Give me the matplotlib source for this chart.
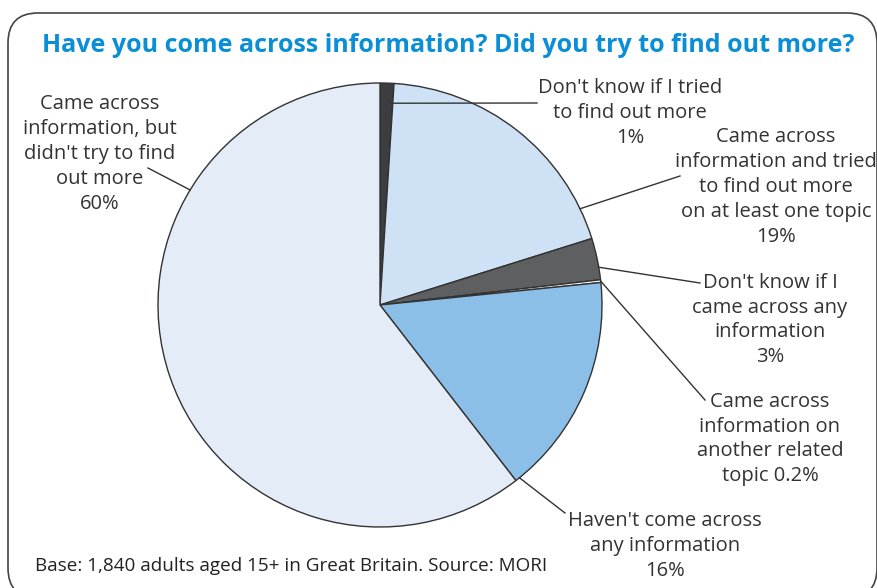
import matplotlib.pyplot as plt
import numpy as np
from matplotlib.patches import FancyBboxPatch

# survey shares, clockwise from 12 o'clock
labels = ["Don't know if I tried\nto find out more\n1%",
          "Came across\ninformation and tried\nto find out more\non at least one topic\n19%",
          "Don't know if I\ncame across any\ninformation\n3%",
          "Came across\ninformation on\nanother related\ntopic 0.2%",
          "Haven't come across\nany information\n16%",
          "Came across\ninformation, but\ndidn't try to find\nout more\n60%"]
values = [1, 19, 3, 0.2, 16, 60]
colors = ['#3d3d3f', '#cfe1f5', '#5e5f61', '#f4f7fb', '#8bbfe8', '#e4ecf8']

# label centre (px from top-left), leader end (px), anchor (clockwise fraction of wedge, fraction of radius)
label_pos = [(630, 113), (776, 187), (770, 320), (770, 439), (665, 546), (100, 154)]
leader_end = [(537, 103), (680, 176), (700, 283), (705, 400), (565, 513), (148, 168)]
anchor = [(0.8, 0.91), (0.88, 1.0), (0.7, 1.0), (0.5, 1.0), (0.98, 1.0), (0.73, 1.0)]

W, H = 878, 588
fig = plt.figure(figsize=(W / 100, H / 100), dpi=100)
ax = fig.add_axes([0, 0, 1, 1])

cx, cy, r = 380, H - 305, 222
wedges, _ = ax.pie(values, colors=colors, startangle=90, counterclock=False,
                   center=(cx, cy), radius=r, frame=True,
                   wedgeprops=dict(edgecolor='#333333', linewidth=1.0))
ax.set_xlim(0, W)
ax.set_ylim(0, H)
ax.set_aspect('equal')
ax.axis('off')

txt_font = ['Open Sans', 'DejaVu Sans']
for w, lab, (lx, ly), (ex, ey), (fa, fr) in zip(wedges, labels, label_pos, leader_end, anchor):
    ang = np.deg2rad(w.theta2 - fa * (w.theta2 - w.theta1))
    px = cx + r * fr * np.cos(ang)
    py = cy + r * fr * np.sin(ang)
    ax.plot([px, ex], [py, H - ey], color='#333333', lw=1.0)
    ax.text(lx, H - ly, lab, ha='center', va='center', fontsize=14.5,
            color='#333333', family=txt_font, linespacing=1.33)

box = FancyBboxPatch((8, -10), 869, H - 13 + 10, boxstyle='round,pad=0,rounding_size=30',
                     fill=False, edgecolor='#444444', lw=1.2, clip_on=False)
ax.add_patch(box)

ax.text(448, H - 45, 'Have you come across information? Did you try to find out more?',
        ha='center', va='center', fontsize=18, fontweight='bold', color='#0a8fd6',
        family=txt_font)
ax.text(35, H - 566, 'Base: 1,840 adults aged 15+ in Great Britain. Source: MORI',
        ha='left', va='center', fontsize=13.6, color='#222222', family=txt_font)

fig.savefig('out.png', dpi=100)
